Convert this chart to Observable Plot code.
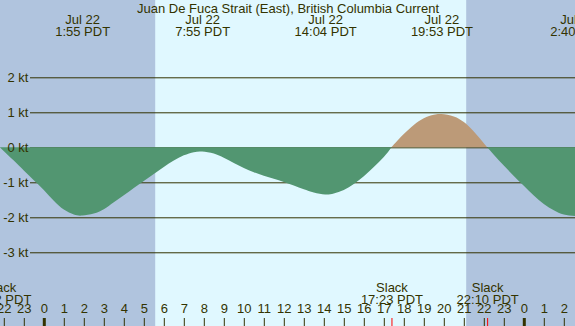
<!DOCTYPE html>
<html>
<head>
<meta charset="utf-8">
<script src="https://cdn.jsdelivr.net/npm/d3@7"></script>
<script src="https://cdn.jsdelivr.net/npm/@observablehq/plot@0.6"></script>
<style>
  html, body { margin: 0; padding: 0; background: #ffffff; }
  #chart svg { display: block; }
</style>
</head>
<body>
<div id="chart"></div>
<script>
// ---- Data ----
const title = "Juan De Fuca Strait (East), British Columbia Current";

// hours relative to midnight Jul 22 (PDT); current in knots
const hours = [-2.2, -1.5, -1.0, -0.5, 0.0, 0.5, 1.0, 1.5, 1.917, 2.5, 3.0, 3.5, 4.0, 4.5, 5.0, 5.5, 6.0, 6.5, 7.0, 7.5, 7.917,
  8.5, 9.0, 9.5, 10.0, 10.5, 11.0, 11.5, 12.0, 12.5, 13.0, 13.5, 14.067, 14.5, 15.0, 15.5, 16.0, 16.5, 17.0, 17.383,
  17.5, 18.0, 18.5, 19.0, 19.5, 19.883, 20.5, 21.0, 21.5, 22.167, 22.5, 23.0, 23.5, 24.0, 24.5, 25.0, 25.5, 26.0, 26.667];
const knots = [0.0, -0.38, -0.66, -0.94, -1.22, -1.53, -1.78, -1.92, -1.95, -1.89, -1.77, -1.57, -1.37, -1.16, -0.96, -0.76, -0.56, -0.38, -0.23, -0.14, -0.12,
  -0.18, -0.30, -0.45, -0.59, -0.71, -0.81, -0.90, -0.99, -1.09, -1.20, -1.29, -1.35, -1.32, -1.22, -1.05, -0.83, -0.56, -0.28, 0.0,
  0.08, 0.38, 0.64, 0.83, 0.93, 0.95, 0.88, 0.72, 0.45, 0.0, -0.21, -0.52, -0.82, -1.10, -1.38, -1.62, -1.80, -1.92, -1.97];

const extremeHours = [1.917, 7.917, 14.067, 19.883, 26.667];
const extremeLabels = ["Jul 22\n1:55 PDT", "Jul 22\n7:55 PDT", "Jul 22\n14:04 PDT", "Jul 22\n19:53 PDT", "Jul 23\n2:40 PDT"];

const slackHours = [-2.2, 17.383, 22.167];
const slackLabels = ["Slack\n21:52 PDT", "Slack\n17:23 PDT", "Slack\n22:10 PDT"];

const sunsetHours = [-2.88, 21.12];
const sunriseHours = [5.57, 29.57];

const yTicks = [2, 1, 0, -1, -2, -3];
const hourTicks = d3.range(-2, 27);

// ---- Derived tables ----
// split the series into ebb / flood segments at the slack (zero) points
const segments = [];
let seg = 0;
hours.forEach((h, i) => {
  const v = knots[i];
  segments.push({h, v, seg});
  if (v === 0 && i > 0 && i < hours.length - 1) {
    seg += 1;
    segments.push({h, v, seg});
  }
});
const segSign = {};
segments.forEach(d => { if (d.v !== 0) segSign[d.seg] = Math.sign(d.v); });
const ebb = segments.filter(d => segSign[d.seg] < 0);
const flood = segments.filter(d => segSign[d.seg] > 0);

const nights = sunsetHours.map((s, i) => ({start: s, end: sunriseHours[i]}));
const extremes = extremeHours.map((h, i) => ({h, label: extremeLabels[i]}));
const slacks = slackHours.map((h, i) => ({h, label: slackLabels[i]}));

// ---- Style ----
const ink = "#333300";
const dayBg = "#e0f8ff";
const nightBg = "#b0c4de";
const ebbFill = "#529671";
const floodFill = "#bc9a78";
const font = "'Liberation Sans', Arial, sans-serif";

const chart = Plot.plot({
  width: 575,
  height: 326,
  margin: 0,
  style: {background: dayBg, fontFamily: font, fontSize: "13px", color: ink},
  x: {domain: [-2.19, 26.56], axis: null},
  y: {domain: [-5.106, 4.209], axis: null},
  marks: [
    Plot.rect(nights, {x1: "start", x2: "end", fill: nightBg, clip: true}),
    Plot.ruleY(yTicks, {stroke: ink, strokeWidth: 1, insetLeft: 30}),
    Plot.areaY(ebb, {x: "h", y1: 0, y2: "v", z: "seg", fill: ebbFill, curve: "natural"}),
    Plot.areaY(flood, {x: "h", y1: 0, y2: "v", z: "seg", fill: floodFill, curve: "natural"}),
    Plot.text(yTicks, {y: d => d, text: d => `${d} kt`, frameAnchor: "left", dx: 28, textAnchor: "end", fill: ink, fontSize: 13}),
    Plot.text([title], {frameAnchor: "top", lineAnchor: "top", dy: 3, fill: ink, fontSize: 13}),
    Plot.text(extremes, {x: "h", text: "label", frameAnchor: "top", lineAnchor: "top", dy: 15, lineHeight: 0.9, fill: ink, fontSize: 13}),
    Plot.text(slacks, {x: "h", text: "label", frameAnchor: "top", lineAnchor: "top", dy: 283.4, lineHeight: 0.9, fill: ink, fontSize: 13}),
    Plot.text(hourTicks, {x: d => d, text: d => String(((d % 24) + 24) % 24), frameAnchor: "bottom", dy: -13.8, fill: ink, fontSize: 13}),
    Plot.ruleX(hourTicks.filter(d => d % 24 !== 0), {x: d => d, stroke: ink, strokeWidth: 1, insetTop: 318}),
    Plot.ruleX(hourTicks.filter(d => d % 24 === 0), {x: d => d, stroke: ink, strokeWidth: 3, insetTop: 318}),
    Plot.ruleX(slackHours.slice(1), {x: d => d, stroke: "red", strokeWidth: 1, insetTop: 318})
  ]
});
document.getElementById("chart").appendChild(chart);
</script>
</body>
</html>
